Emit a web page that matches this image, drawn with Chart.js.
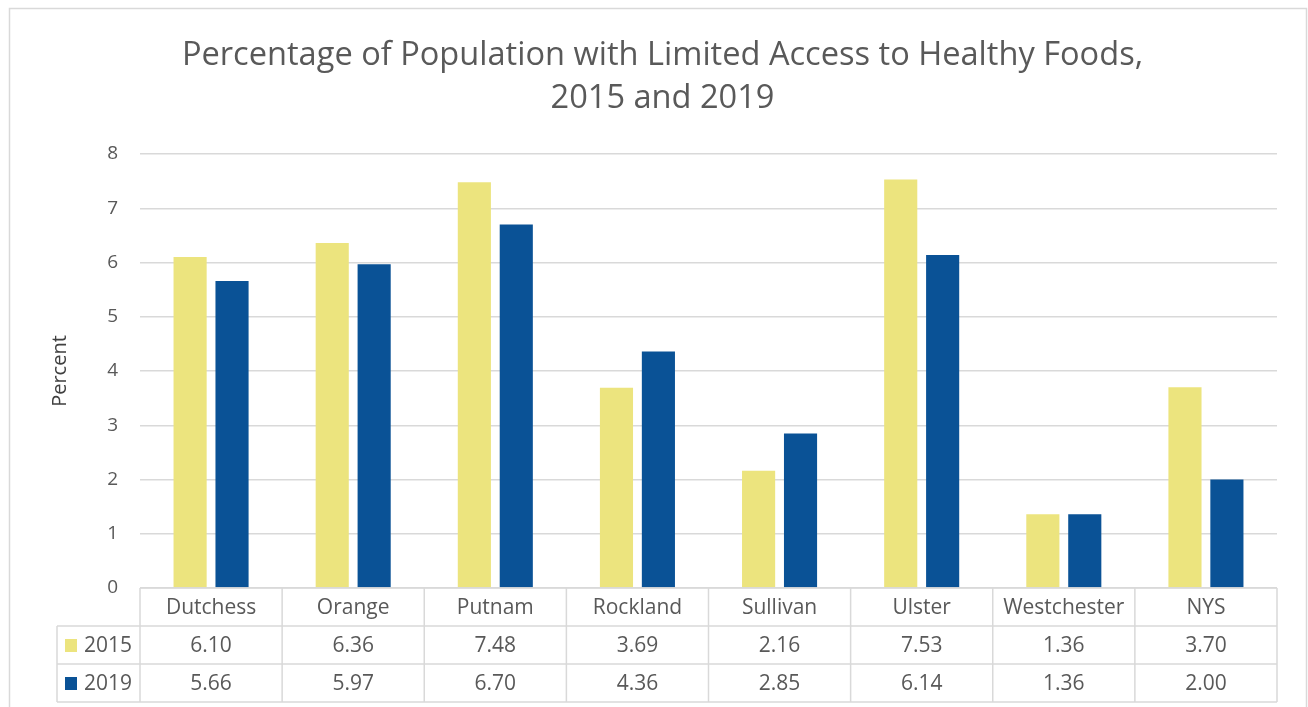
<!DOCTYPE html>
<html>
<head>
<meta charset="utf-8">
<script src="https://cdn.jsdelivr.net/npm/chart.js@4/dist/chart.umd.min.js"></script>
<style>
  html, body { margin: 0; padding: 0; background: #ffffff; }
  #wrap { width: 1308px; height: 707px; position: relative; }
</style>
</head>
<body>
<div id="wrap"><canvas id="c" width="1308" height="707"></canvas></div>
<script>
const categories = ['Dutchess', 'Orange', 'Putnam', 'Rockland', 'Sullivan', 'Ulster', 'Westchester', 'NYS'];
const seriesNames = ['2015', '2019'];
const values2015 = [6.10, 6.36, 7.48, 3.69, 2.16, 7.53, 1.36, 3.70];
const values2019 = [5.66, 5.97, 6.70, 4.36, 2.85, 6.14, 1.36, 2.00];
const titleLines = ['Percentage of Population with Limited Access to Healthy Foods,', '2015 and 2019'];
const yAxisTitle = 'Percent';

const FONT = "'Open Sans', 'Noto Sans', sans-serif";
const TEXT = '#595959';
const LINE = '#d9d9d9';
const colors = ['#ECE47E', '#0A5296'];
const seriesValues = [values2015, values2019];

const tablePlugin = {
  id: 'dataTable',
  beforeDraw(chart) {
    const ctx = chart.ctx;
    ctx.save();
    ctx.fillStyle = '#ffffff';
    ctx.fillRect(0, 0, chart.width, chart.height);
    ctx.strokeStyle = LINE;
    ctx.lineWidth = 1.5;
    ctx.strokeRect(9.5, 8.5, 1297, 760);
    ctx.restore();
  },
  afterDraw(chart) {
    const ctx = chart.ctx;
    const area = chart.chartArea;
    const xs = chart.scales.x;
    const n = categories.length;
    const w = (area.right - area.left) / n;
    const top = area.bottom;
    const rowH = 38;
    const legendLeft = 57;
    ctx.save();
    ctx.strokeStyle = LINE;
    ctx.lineWidth = 1.5;
    ctx.beginPath();
    ctx.moveTo(area.left, top); ctx.lineTo(area.right, top);
    for (let r = 1; r <= 3; r++) {
      const y = top + r * rowH;
      ctx.moveTo(legendLeft, y); ctx.lineTo(area.right, y);
    }
    ctx.moveTo(legendLeft, top + rowH); ctx.lineTo(legendLeft, top + 3 * rowH);
    for (let i = 0; i <= n; i++) {
      const x = i < n ? xs.getPixelForValue(i) - w / 2 : xs.getPixelForValue(n - 1) + w / 2;
      ctx.moveTo(x, top); ctx.lineTo(x, top + 3 * rowH);
    }
    ctx.stroke();

    ctx.fillStyle = TEXT;
    ctx.font = '21px ' + FONT;
    ctx.textAlign = 'center';
    ctx.textBaseline = 'middle';
    for (let i = 0; i < n; i++) {
      const cx = xs.getPixelForValue(i);
      ctx.fillText(categories[i], cx, top + rowH / 2 + 1);
      for (let s = 0; s < 2; s++) {
        ctx.fillText(seriesValues[s][i].toFixed(2), cx, top + rowH * (s + 1) + rowH / 2 + 1);
      }
    }
    ctx.textAlign = 'left';
    for (let s = 0; s < 2; s++) {
      const cy = top + rowH * (s + 1) + rowH / 2;
      ctx.fillStyle = colors[s];
      ctx.fillRect(65, cy - 6, 12, 13);
      ctx.fillStyle = TEXT;
      ctx.fillText(seriesNames[s], 84, cy + 1);
    }
    ctx.restore();
  }
};

new Chart(document.getElementById('c'), {
  type: 'bar',
  data: {
    labels: categories,
    datasets: [
      { label: seriesNames[0], data: values2015, backgroundColor: colors[0], categoryPercentage: 0.59, barPercentage: 0.79 },
      { label: seriesNames[1], data: values2019, backgroundColor: colors[1], categoryPercentage: 0.59, barPercentage: 0.79 }
    ]
  },
  options: {
    responsive: false,
    animation: false,
    devicePixelRatio: 1,
    layout: { padding: { top: 10, left: 48, right: 31, bottom: 119 } },
    plugins: {
      legend: { display: false },
      tooltip: { enabled: false },
      title: {
        display: true,
        text: titleLines,
        color: TEXT,
        font: { family: FONT, size: 32.6, weight: 'normal', lineHeight: 43 / 32.6 },
        padding: { top: 24, bottom: 34 }
      }
    },
    scales: {
      x: {
        display: false,
        grid: { display: false }
      },
      y: {
        min: 0,
        max: 8,
        ticks: { stepSize: 1, color: TEXT, font: { family: FONT, size: 19 }, padding: 22 },
        grid: { color: LINE, lineWidth: 1.5, drawTicks: false },
        border: { display: false },
        title: { display: true, text: yAxisTitle, color: '#404040', font: { family: FONT, size: 20 }, padding: 0 },
        afterFit(scale) { scale.width = 92; }
      }
    }
  },
  plugins: [tablePlugin]
});
</script>
</body>
</html>
